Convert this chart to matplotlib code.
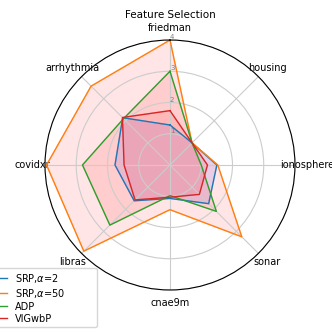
import numpy as np
import matplotlib
matplotlib.use("Agg")
import matplotlib.pyplot as plt

# datasets, clockwise from the top
datasets = ["friedman", "housing", "ionosphere", "sonar",
            "cnae9m", "libras", "covidxr", "arrhythmia"]

srp_a2 = [1.28, 1.0, 1.5, 1.75, 1.07, 1.62, 1.76, 2.14]
srp_a50 = [4.0, 1.0, 1.53, 3.25, 1.43, 3.9, 3.95, 3.57]
adp = [3.0, 1.0, 1.0, 2.1, 0.98, 2.72, 2.8, 2.1]
vigwbp = [1.74, 1.0, 1.2, 1.33, 1.03, 1.58, 1.47, 2.15]

series = [
    ("SRP,$\\alpha$=2", srp_a2, "tab:blue", "b"),
    ("SRP,$\\alpha$=50", srp_a50, "tab:orange", "r"),
    ("ADP", adp, "tab:green", "r"),
    ("VIGwbP", vigwbp, "tab:red", "r"),
]

angles = np.linspace(0, 2 * np.pi, len(datasets), endpoint=False).tolist()
angles += angles[:1]

fig = plt.figure(figsize=(3.32, 3.32), dpi=100)
ax = fig.add_axes([0.1355, 0.1265, 0.753, 0.753], polar=True)
ax.set_theta_offset(np.pi / 2)
ax.set_theta_direction(-1)

for label, vals, col, fcol in series:
    v = vals + vals[:1]
    ax.plot(angles, v, color=col, linewidth=1.0, label=label)
    ax.fill(angles, v, color=fcol, alpha=0.1)

ax.set_xticks(angles[:-1])
ax.set_xticklabels(datasets, fontsize=7)
ax.tick_params(axis="x", pad=-1.5)
ax.set_ylim(0, 4)
ax.set_yticks([1, 2, 3, 4])
ax.set_yticklabels(["1", "2", "3", "4"], fontsize=5, color="grey")
ax.set_rlabel_position(0)
ax.grid(color="#cccccc", linewidth=0.8)
ax.spines["polar"].set_linewidth(0.8)

fig.text(170 / 332, 1 - 15 / 332, "Feature Selection", ha="center", va="center", fontsize=7.5)

# legend hangs off the left edge like in the original
fig.legend(loc="lower left", bbox_to_anchor=(-0.047, 0.015, 0.339, 0.2),
           mode="expand", fontsize=7, borderaxespad=0, labelspacing=0.2,
           borderpad=0.35)

fig.savefig("out.png", dpi=100)
